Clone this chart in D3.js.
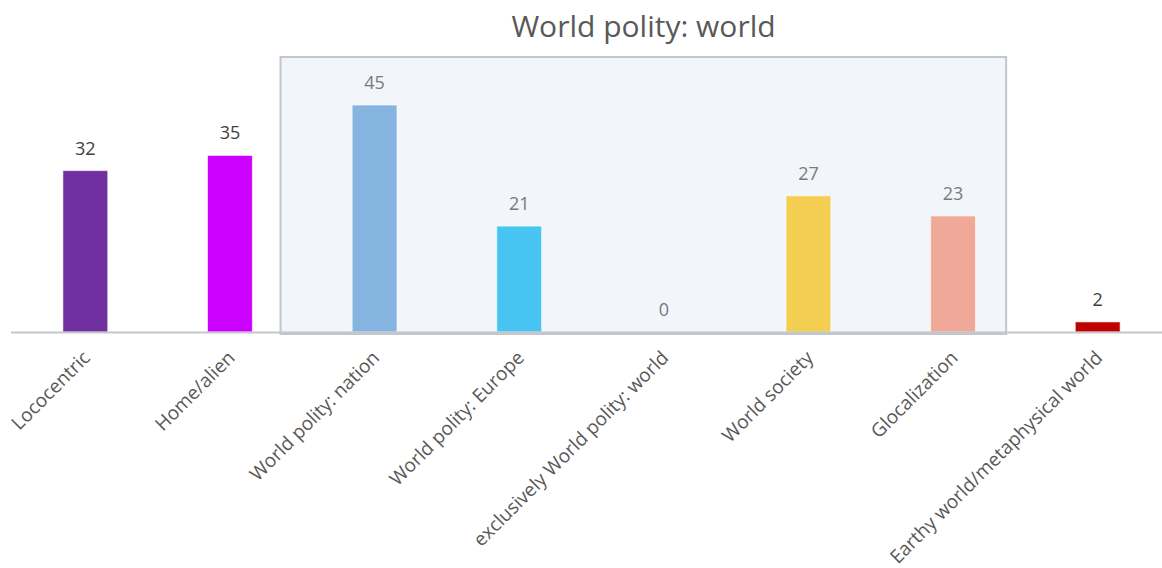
<!DOCTYPE html>
<html><head><meta charset="utf-8">
<script src="https://cdn.jsdelivr.net/npm/d3@7"></script>
<style>
html,body{margin:0;padding:0;background:#fff;}
svg{display:block;font-family:"Open Sans", Lato, sans-serif;}
</style></head>
<body><svg id="chart" width="1162" height="568"></svg>
<script>
const title = "World polity: world";
const categories = ["Lococentric","Home/alien","World polity: nation","World polity: Europe","exclusively World polity: world","World society","Glocalization","Earthy world/metaphysical world"];
const values = [32,35,45,21,0,27,23,2];
const colors = ["#7030a0","#cc00ff","#85b4e0","#47c4f1","#85b4e0","#f3ce51","#f0a999","#c00000"];
const highlighted = [false,false,true,true,true,true,true,false];

const svg = d3.select("#chart");
const W = 1162, H = 568;
const baseY = 332;

const x = d3.scaleBand().domain(categories).range([13, 1170]).paddingInner(0.69).paddingOuter(0.345);
const y = d3.scaleLinear().domain([0, 50]).range([baseY, baseY - 50 * 5.044]);
const step = x.step();
const cx = c => x(c) + x.bandwidth() / 2;

// highlight box
const boxL = cx(categories[2]) - 0.65 * step;
const boxR = cx(categories[6]) + 0.367 * step;
svg.append("rect").attr("x", boxL).attr("y", 57).attr("width", boxR - boxL).attr("height", baseY + 2 - 57)
  .attr("fill", "#f2f5fa").attr("stroke", "#c3c6ca").attr("stroke-width", 2);

// bars
svg.append("g").selectAll("rect").data(categories).join("rect")
  .attr("x", d => x(d)).attr("width", x.bandwidth())
  .attr("y", (d, i) => y(values[i])).attr("height", (d, i) => baseY - y(values[i]))
  .attr("fill", (d, i) => colors[i]).attr("stroke", "rgba(255,255,255,0.6)").attr("stroke-width", 1);

// baseline axis
const axis = d3.axisBottom(x).tickSize(0).tickFormat("");
const ag = svg.append("g").attr("transform", `translate(0,${baseY})`).call(axis);
ag.select(".domain").remove();
svg.append("line").attr("x1", 11).attr("x2", W).attr("y1", baseY + 0.5).attr("y2", baseY + 0.5)
  .attr("stroke", "#c3c6ca").attr("stroke-width", 2);

// value labels
svg.append("g").selectAll("text").data(categories).join("text")
  .attr("x", d => cx(d)).attr("y", (d, i) => y(values[i]) - 16)
  .attr("text-anchor", "middle").attr("font-size", 18)
  .attr("fill", (d, i) => highlighted[i] ? "#7a7a7a" : "#404040")
  .text((d, i) => values[i]);

// category labels
svg.append("g").selectAll("text").data(categories).join("text")
  .attr("transform", d => `translate(${cx(d) + 6},${baseY + 27}) rotate(-45)`)
  .attr("text-anchor", "end").attr("font-size", 19).attr("fill", "#595959")
  .text(d => d);

// title
svg.append("text").attr("x", 643.5).attr("y", 37).attr("text-anchor", "middle")
  .attr("font-size", 30).attr("fill", "#595959").text(title);
</script></body></html>
